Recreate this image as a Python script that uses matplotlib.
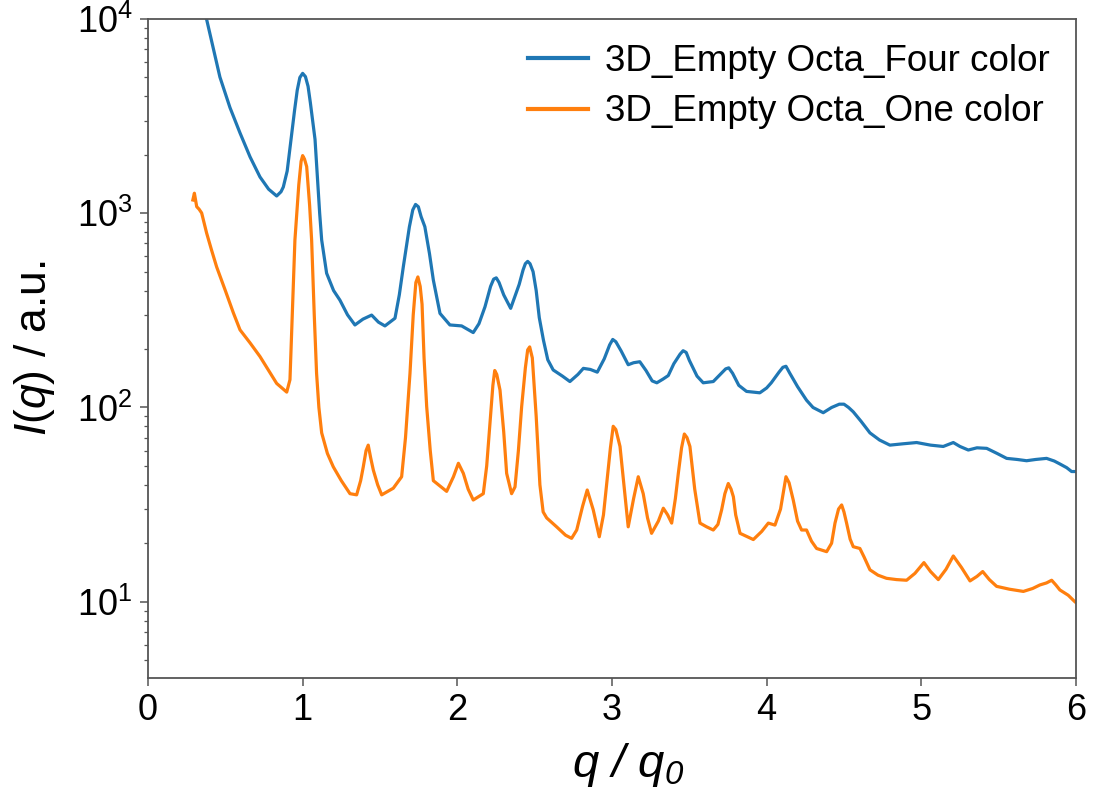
import matplotlib
matplotlib.use("Agg")
import matplotlib.pyplot as plt

plt.rcParams['font.family'] = ['Liberation Sans', 'DejaVu Sans']
plt.rcParams['mathtext.fontset'] = 'custom'
plt.rcParams['mathtext.rm'] = 'Liberation Sans'
plt.rcParams['mathtext.it'] = 'Liberation Sans:italic'
plt.rcParams['mathtext.default'] = 'regular'

# Scattering profiles, q/q0 vs intensity
q_four = [0.37, 0.38, 0.42, 0.465, 0.53, 0.595, 0.66, 0.724, 0.78, 0.832,
          0.86, 0.875, 0.90, 0.93, 0.948, 0.965, 0.982, 1.0, 1.018, 1.035,
          1.05, 1.08, 1.11, 1.123, 1.155, 1.20, 1.241, 1.29, 1.338, 1.39,
          1.446, 1.49, 1.532, 1.597, 1.625, 1.651, 1.69, 1.712, 1.73, 1.748,
          1.766, 1.79, 1.82, 1.845, 1.888, 1.952, 2.028, 2.103, 2.14, 2.179,
          2.215, 2.235, 2.252, 2.27, 2.30, 2.345, 2.40, 2.425, 2.44, 2.455,
          2.47, 2.49, 2.51, 2.53, 2.557, 2.585, 2.62, 2.68, 2.728, 2.78,
          2.815, 2.86, 2.905, 2.95, 2.985, 3.005, 3.025, 3.06, 3.105, 3.14,
          3.18, 3.22, 3.26, 3.29, 3.33, 3.364, 3.40, 3.44, 3.46, 3.48,
          3.50, 3.55, 3.59, 3.655, 3.70, 3.735, 3.755, 3.78, 3.82, 3.87,
          3.956, 4.00, 4.03, 4.08, 4.105, 4.125, 4.15, 4.20, 4.258, 4.30,
          4.366, 4.42, 4.47, 4.50, 4.53, 4.56, 4.61, 4.668, 4.73, 4.797,
          4.88, 4.97, 5.06, 5.142, 5.207, 5.25, 5.304, 5.36, 5.423, 5.49,
          5.552, 5.62, 5.681, 5.74, 5.81, 5.86, 5.896, 5.94, 5.972, 6.0]
i_four = [10500, 9880, 7200, 5025, 3500, 2590, 1950, 1538, 1330, 1227,
          1290, 1365, 1650, 2600, 3400, 4300, 5000, 5250, 5050, 4500,
          3700, 2400, 1000, 728, 491, 400, 357, 300, 266, 285,
          299, 275, 263, 288, 380, 531, 850, 1040, 1110, 1080,
          960, 853, 620, 453, 305, 266, 263, 243, 270, 330,
          420, 458, 465, 440, 380, 324, 430, 510, 550, 565,
          550, 500, 400, 290, 222, 176, 156, 145, 136, 148,
          159, 157, 152, 178, 210, 224, 218, 195, 166, 170,
          172, 155, 137, 134, 140, 146, 168, 188, 196, 192,
          175, 145, 134, 136, 148, 158, 160, 150, 130, 121,
          119, 126, 134, 152, 161, 163, 150, 128, 109, 100,
          94, 100, 104, 104, 100, 95, 85, 74, 68, 64,
          65, 66, 64, 63, 66, 63, 60.4, 62, 61.6, 58,
          54.7, 54, 53.2, 54, 54.7, 53, 51.2, 49, 46.8, 46.8]

q_one = [0.29, 0.30, 0.315, 0.33, 0.347, 0.379, 0.41, 0.444, 0.50, 0.552,
         0.595, 0.66, 0.724, 0.78, 0.832, 0.897, 0.918, 0.95, 0.975, 0.99,
         1.0, 1.012, 1.026, 1.045, 1.058, 1.075, 1.09, 1.105, 1.123, 1.16,
         1.198, 1.25, 1.306, 1.349, 1.375, 1.392, 1.41, 1.424, 1.44, 1.457,
         1.485, 1.511, 1.586, 1.64, 1.665, 1.694, 1.715, 1.732, 1.745, 1.76,
         1.772, 1.785, 1.802, 1.825, 1.845, 1.931, 1.975, 2.007, 2.039, 2.07,
         2.103, 2.168, 2.19, 2.211, 2.23, 2.242, 2.255, 2.276, 2.30, 2.319,
         2.351, 2.373, 2.395, 2.416, 2.44, 2.455, 2.468, 2.485, 2.51, 2.534,
         2.555, 2.578, 2.642, 2.70, 2.739, 2.772, 2.81, 2.84, 2.879, 2.918,
         2.945, 2.966, 2.99, 3.008, 3.025, 3.052, 3.08, 3.105, 3.14, 3.17,
         3.202, 3.23, 3.256, 3.30, 3.332, 3.36, 3.386, 3.41, 3.429, 3.45,
         3.468, 3.485, 3.504, 3.535, 3.569, 3.612, 3.655, 3.685, 3.709, 3.73,
         3.752, 3.77, 3.785, 3.80, 3.828, 3.914, 3.968, 4.011, 4.054, 4.09,
         4.125, 4.145, 4.172, 4.20, 4.226, 4.258, 4.29, 4.323, 4.388, 4.42,
         4.442, 4.465, 4.485, 4.50, 4.517, 4.54, 4.56, 4.603, 4.63, 4.668,
         4.72, 4.775, 4.84, 4.905, 4.959, 4.99, 5.017, 5.06, 5.11, 5.16,
         5.207, 5.26, 5.315, 5.36, 5.397, 5.44, 5.487, 5.57, 5.66, 5.72,
         5.767, 5.81, 5.843, 5.87, 5.896, 5.95, 5.993, 6.0]
i_one = [1170, 1268, 1081, 1050, 1003, 791, 650, 529, 400, 307,
         251, 215, 183, 155, 133, 120, 139, 728, 1400, 1850,
         1980, 1900, 1738, 1100, 728, 300, 150, 100, 74, 58,
         49.5, 42, 36, 35.5, 42, 49.5, 60, 64, 55, 47.6,
         40, 35.5, 38.4, 44, 70, 150, 300, 440, 470, 420,
         340, 180, 101, 60, 42, 37, 44, 51.6, 45.8, 38,
         33.4, 36, 50, 82.8, 130, 155, 148, 123, 75, 45.8,
         36, 39, 60, 101, 160, 198, 205, 180, 90, 40,
         29, 27, 24.3, 22, 21.2, 23.4, 31, 37.6, 29.7, 21.6,
         28, 40.6, 62, 80, 77, 63, 38, 24.3, 34, 44,
         36, 27, 22.5, 26, 30.3, 28, 25.4, 34, 45.8, 62,
         73, 70, 63, 38, 25.4, 24.3, 23.4, 25, 29.7, 36,
         40.6, 38, 34.7, 28, 22.5, 20.9, 23, 25.4, 24.8, 30,
         44, 41, 33.4, 26, 23.4, 23.4, 20.5, 18.8, 18.1, 20,
         25.4, 30, 31.5, 29, 25.4, 21, 19.2, 18.8, 17, 14.6,
         13.7, 13.2, 13.0, 12.9, 14, 15, 15.9, 14.3, 13.0, 14.7,
         17.2, 15, 12.8, 13.5, 14.3, 13, 12.0, 11.6, 11.3, 11.7,
         12.2, 12.5, 12.9, 12.2, 11.5, 10.8, 10.0, 9.9]

series_labels = ['3D_Empty Octa_Four color', '3D_Empty Octa_One color']
x_ticks = [0, 1, 2, 3, 4, 5, 6]

fig = plt.figure(figsize=(10.93, 7.95), dpi=100)
ax = fig.add_axes([0.1354, 0.1472, 0.8490, 0.8289])

ax.plot(q_four, i_four, color='#1f77b4', lw=2.3, label=series_labels[0],
        solid_joinstyle='round')
ax.plot(q_one, i_one, color='#ff7f0e', lw=2.3, label=series_labels[1],
        solid_joinstyle='round')

ax.set_yscale('log')
ax.set_xlim(0, 6)
ax.set_ylim(4.05, 1e4)
ax.set_xticks(x_ticks)
ax.set_xticklabels([str(t) for t in x_ticks])

spine_col = '#555555'
for s in ax.spines.values():
    s.set_color(spine_col)
    s.set_linewidth(1.3)
ax.tick_params(axis='both', which='major', direction='out', length=6,
               width=1.1, color=spine_col, labelsize=26, pad=5)
ax.tick_params(axis='y', which='minor', direction='out', length=3,
               width=0.9, color=spine_col)

ax.set_xlabel(r'q / q$_0$', fontsize=34, style='italic')
ax.xaxis.set_label_coords(0.518, -0.095)
ax.set_ylabel(r'$\mathit{I(q)}$ / a.u.', fontsize=32, labelpad=14)

leg = ax.legend(loc='upper right', bbox_to_anchor=(0.988, 0.985),
                borderaxespad=0, frameon=False, fontsize=26.5,
                handlelength=1.63, handletextpad=0.46, labelspacing=0.43)
for line in leg.get_lines():
    line.set_linewidth(3.0)

fig.savefig('out.png', dpi=100)
